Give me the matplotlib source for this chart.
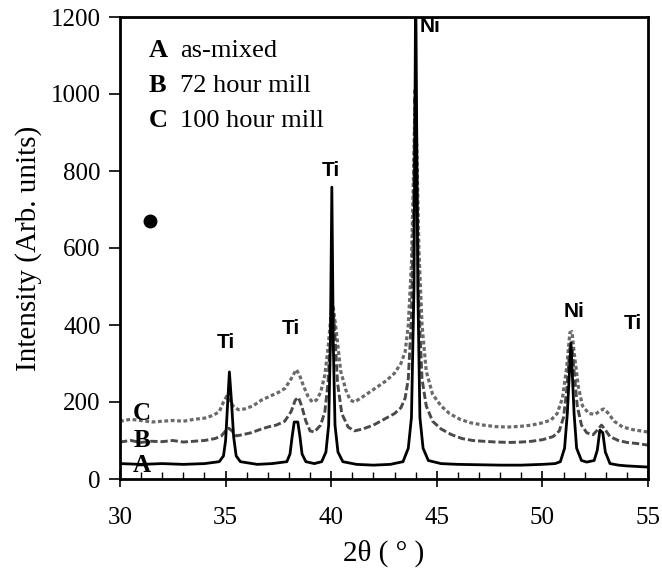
import matplotlib
matplotlib.use("Agg")
import matplotlib.pyplot as plt
from matplotlib.ticker import MultipleLocator

# ---- data ----
a_x = [30.0, 31, 32, 33, 34, 34.7, 34.9, 35.0, 35.08, 35.18, 35.28, 35.38, 35.5, 35.7, 36.5, 37.2,
       37.9, 38.05, 38.15, 38.25, 38.42, 38.52, 38.62, 38.8, 39.2, 39.55, 39.75, 39.88, 39.96, 40.03,
       40.1, 40.18, 40.32, 40.55, 41.2, 42, 42.8, 43.4, 43.65, 43.8, 43.92, 44.0, 44.1, 44.2, 44.35,
       44.6, 45.2, 46, 47, 48, 49, 50, 50.6, 50.85, 51.05, 51.18, 51.35, 51.5, 51.62, 51.85, 52.1,
       52.45, 52.6, 52.72, 52.86, 52.98, 53.2, 53.6, 54, 55]
a_y = [40, 38, 40, 38, 40, 45, 60, 100, 180, 278, 200, 110, 60, 45, 38, 40,
       45, 65, 110, 148, 148, 110, 65, 45, 40, 45, 70, 140, 350, 758,
       350, 140, 70, 45, 38, 36, 38, 45, 80, 160, 500, 1300, 500, 160, 80,
       48, 40, 38, 37, 36, 36, 38, 40, 45, 80, 170, 354, 170, 80, 48, 44,
       48, 75, 127, 120, 70, 40, 36, 34, 31]

b_x = [30, 30.5, 31, 31.5, 32, 32.5, 33, 33.5, 34, 34.5, 34.8, 35.0, 35.15, 35.3, 35.5, 35.8, 36.2, 36.6,
       37.0, 37.4, 37.8, 38.1, 38.3, 38.45, 38.6, 38.8, 39.0, 39.2, 39.5, 39.7, 39.85, 39.95, 40.05,
       40.15, 40.3, 40.5, 40.8, 41.1, 41.5, 42, 42.5, 43, 43.3, 43.5, 43.65, 43.8, 43.9, 43.97, 44.05,
       44.15, 44.3, 44.5, 44.8, 45.2, 45.7, 46.2, 46.7, 47.2, 47.8, 48.5, 49, 49.5, 50, 50.5, 50.8,
       51.0, 51.15, 51.3, 51.4, 51.5, 51.65, 51.85, 52.1, 52.4, 52.65, 52.8, 52.95, 53.2, 53.6, 54,
       54.5, 55]
b_y = [96, 100, 95, 98, 97, 100, 96, 98, 100, 105, 112, 125, 132, 125, 112, 115, 120, 128,
       135, 140, 150, 175, 205, 212, 190, 150, 125, 122, 140, 175, 250, 350, 460,
       400, 250, 170, 135, 125, 130, 140, 155, 170, 185, 210, 260, 420, 700, 1010, 800,
       450, 260, 190, 150, 130, 115, 105, 100, 98, 96, 95, 96, 98, 102, 110, 125,
       160, 230, 340, 345, 280, 190, 140, 120, 115, 130, 140, 130, 110, 100, 95,
       92, 88]

c_x = [30, 30.5, 31, 31.5, 32, 32.5, 33, 33.5, 34, 34.4, 34.7, 34.9, 35.05, 35.2, 35.35, 35.6, 35.9,
       36.3, 36.7, 37.1, 37.5, 37.8, 38.05, 38.25, 38.35, 38.5, 38.7, 38.9, 39.1, 39.3, 39.5, 39.7,
       39.85, 40.0, 40.1, 40.25, 40.45, 40.7, 40.9, 41.1, 41.4, 41.8, 42.2, 42.6, 43.0, 43.3, 43.5,
       43.65, 43.8, 43.9, 43.97, 44.05, 44.15, 44.3, 44.5, 44.8, 45.2, 45.6, 46.1, 46.6, 47.2, 47.8,
       48.4, 49, 49.5, 50, 50.4, 50.7, 50.95, 51.15, 51.3, 51.4, 51.5, 51.7, 51.9, 52.2, 52.5, 52.75,
       52.9, 53.1, 53.4, 53.8, 54.3, 55]
c_y = [150, 155, 152, 148, 150, 152, 150, 155, 158, 165, 175, 200, 215, 205, 190, 180, 182,
       190, 205, 215, 225, 235, 255, 275, 284, 270, 240, 215, 200, 205, 225, 270,
       340, 430, 445, 380, 280, 230, 205, 200, 210, 225, 240, 255, 275, 300, 330,
       400, 560, 800, 990, 870, 600, 400, 280, 220, 190, 170, 155, 146, 140, 136,
       135, 137, 140, 146, 153, 170, 210, 290, 380, 383, 330, 240, 190, 170, 168, 178,
       182, 172, 150, 135, 128, 122]

peak_labels = ["Ti", "Ti", "Ti", "Ni", "Ni", "Ti"]
peak_label_x = [35.0, 38.1, 40.0, 44.7, 51.5, 54.3]
peak_label_y = [355, 390, 800, 1175, 435, 405]

legend_keys = ["A", "B", "C"]
legend_texts = ["as-mixed", "72 hour mill", "100 hour mill"]
legend_y = [1096, 1005, 914]

curve_tags = ["A", "B", "C"]
curve_tag_y = [34, 101, 171]

dot_x, dot_y = [31.4], [669]

x_ticks = [30, 35, 40, 45, 50, 55]
y_ticks = [0, 200, 400, 600, 800, 1000, 1200]

# ---- figure ----
fig = plt.figure(figsize=(6.62, 5.78), dpi=100)
ax = fig.add_axes([120 / 662, 99 / 578, 528 / 662, 462 / 578])

ax.plot(c_x, c_y, color="#6a6a6a", lw=2.3, ls=(0, (1.2, 0.8)), zorder=2)
ax.plot(b_x, b_y, color="#4a4a4a", lw=2.1, ls=(0, (2.5, 1.0)), zorder=2)
ax.plot(a_x, a_y, color="black", lw=2.0, zorder=3)

ax.plot(dot_x, dot_y, "o", color="black", ms=9)

ax.set_xlim(30, 55)
ax.set_ylim(0, 1200)
ax.set_xticks(x_ticks)
ax.set_yticks(y_ticks)
ax.xaxis.set_minor_locator(MultipleLocator(1))

serif = ["Liberation Serif", "DejaVu Serif"]
for lbl in ax.get_xticklabels() + ax.get_yticklabels():
    lbl.set_fontfamily(serif)
    lbl.set_fontsize(18)

ax.tick_params(axis="x", which="major", direction="inout", length=12, width=1.2, pad=14)
ax.tick_params(axis="x", which="minor", direction="in", length=5, width=1.0)
ax.tick_params(axis="y", which="major", direction="out", length=8, width=1.2, pad=6)
for s in ax.spines.values():
    s.set_linewidth(2.0)

ax.set_ylabel("Intensity (Arb. units)", fontfamily=serif, fontsize=21, labelpad=6)
ax.set_xlabel("2θ ( ° )", fontfamily=serif, fontsize=21, labelpad=8)

sans_b = dict(fontfamily=["Liberation Sans", "DejaVu Sans"], fontweight="bold", fontsize=15)
for t, x, y in zip(peak_labels, peak_label_x, peak_label_y):
    ax.text(x, y, t, ha="center", va="center", **sans_b)

for k, t, y in zip(legend_keys, legend_texts, legend_y):
    ax.text(31.34, y, k, ha="left", va="baseline", fontfamily=serif, fontweight="bold", fontsize=19)
    ax.text(32.85, y, t, ha="left", va="baseline", fontfamily=serif, fontsize=19)

for t, y in zip(curve_tags, curve_tag_y):
    ax.text(31.05, y, t, ha="center", va="center", fontfamily=serif, fontweight="bold",
            fontsize=18, zorder=4)

fig.savefig("out.png", dpi=100)
